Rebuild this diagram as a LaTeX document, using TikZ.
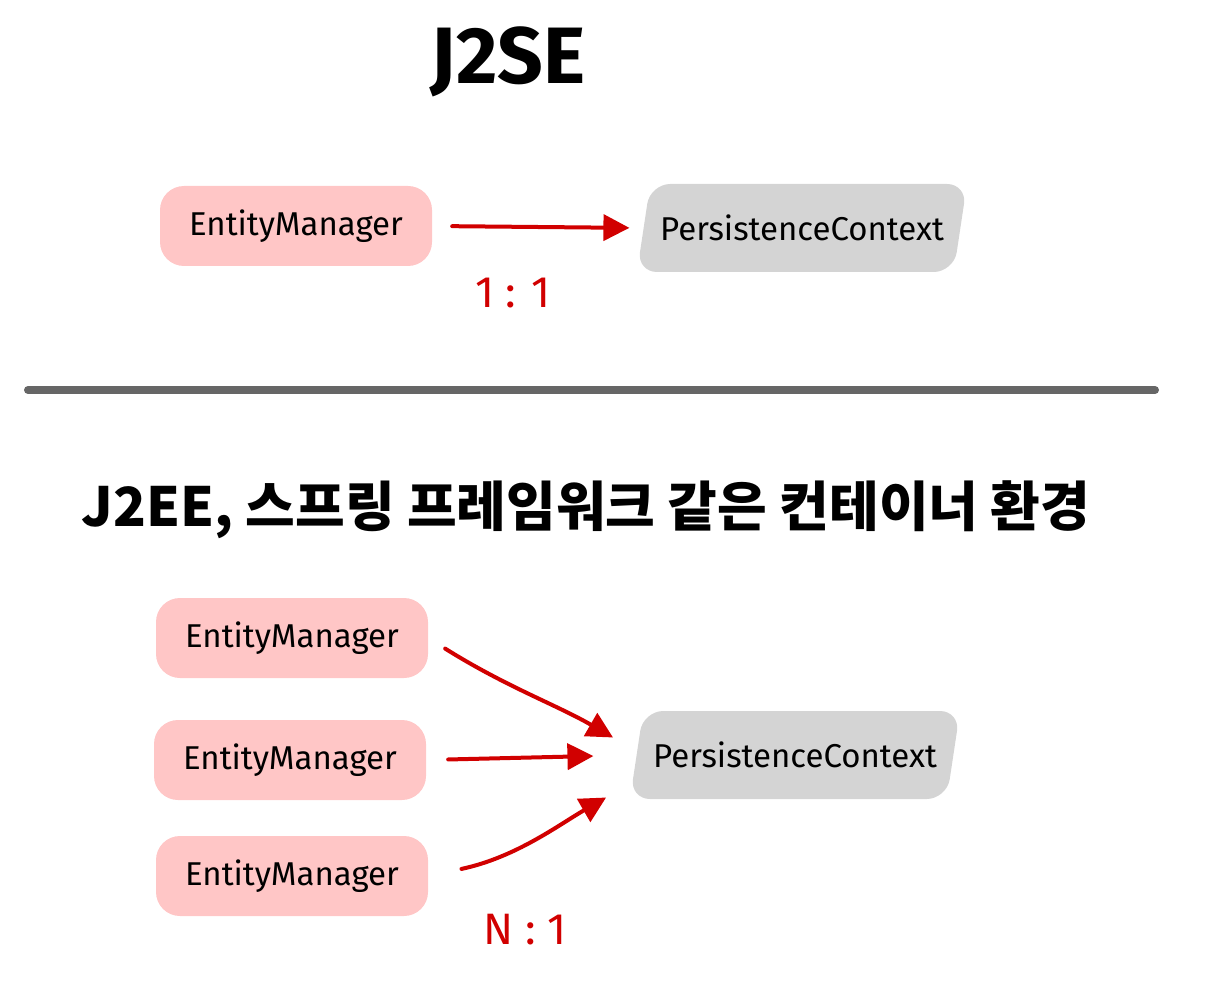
\documentclass[tikz,border=0pt]{standalone}
\usepackage{fontspec}
\setmainfont{Fira Sans}
\newfontfamily\krfont{Noto Sans CJK KR}
\usetikzlibrary{arrows.meta, shapes.geometric}
\definecolor{empink}{HTML}{FFC6C6}
\definecolor{pcgray}{HTML}{D4D4D4}
\definecolor{arrred}{HTML}{D10000}
\definecolor{bargray}{HTML}{666666}
\begin{document}
\begin{tikzpicture}[x=1pt, y=-1pt, >={Triangle[length=26pt, width=26pt]}, line cap=round,
		emnode/.style={fill=empink, rounded corners=24pt, minimum width=272pt, minimum height=80pt, font=\fontsize{33}{36}\selectfont},
		pcnode/.style={trapezium, trapezium left angle=68, trapezium right angle=112, trapezium stretches body, fill=pcgray, rounded corners=20pt, minimum width=330pt, minimum height=88pt, font=\fontsize{33}{36}\selectfont},
		relarrow/.style={draw=arrred, line width=4pt, ->},
		ratio/.style={text=arrred, font=\fontsize{44}{48}\selectfont}]
	\useasboundingbox (0,0) rectangle (1205,1000);
	
	% ------------------ J2SE ------------------
	\node[font=\fontsize{80}{84}\selectfont\bfseries] (tse) at (508,62) {J2SE};
	
	\node[emnode] (em1) at (296,226) {EntityManager};
	\node[pcnode] (pc1) at (802,228) {PersistenceContext};
	\draw[relarrow, shorten <=20pt, shorten >=14pt] (em1.east) -- (pc1.west);
	\node[ratio] (r1) at (513,293) {1 : 1};
	
	% ------------------ 구분선 ------------------
	\draw[bargray, line width=8pt] (28,390) -- (1155,390);
	
	% ------------------ J2EE ------------------
	\node[font=\fontsize{54}{60}\selectfont\krfont\bfseries] (tee) at (586,510) {J2EE, 스프링 프레임워크 같은 컨테이너 환경};
	
	\node[emnode] (em2) at (292,638) {EntityManager};
	\node[emnode] (em3) at (290,760) {EntityManager};
	\node[emnode] (em4) at (292,876) {EntityManager};
	\node[pcnode] (pc2) at (795,755) {PersistenceContext};
	
	\draw[relarrow, shorten <=20pt, shorten >=27pt] (em2.east) to[out=-32, in=150] ([yshift=4pt]pc2.west);
	\draw[relarrow, shorten <=22pt, shorten >=43pt] (em3.east) -- (pc2.west);
	\draw[relarrow, shorten <=34pt, shorten >=35pt] (em4.east) to[out=12, in=-150] ([yshift=-25pt]pc2.west);
	\node[ratio] (r2) at (525,930) {N : 1};
\end{tikzpicture}
\end{document}
